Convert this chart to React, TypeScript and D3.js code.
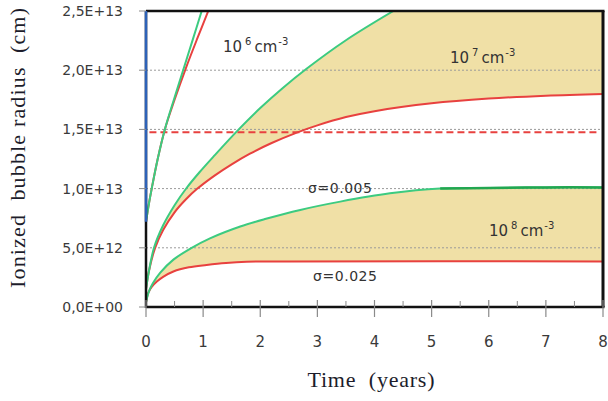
import React from "react";
import * as d3 from "d3";

// values in units of 1e12 cm, time in years
const xTicks = [0, 1, 2, 3, 4, 5, 6, 7, 8];
const xMinorTicks = [0.5, 1.5, 2.5, 3.5, 4.5, 5.5, 6.5, 7.5];
const yTicks = [0, 5, 10, 15, 20, 25];
const yTickLabels = ["0,0E+00", "5,0E+12", "1,0E+13", "1,5E+13", "2,0E+13", "2,5E+13"];
const gridValues = [5, 10, 15, 20];
const dashedLevel = 14.75;

const blue5: [number, number][] = [[0, 7.2], [0, 25]];
const green6: [number, number][] = [[0, 7.2], [0.05, 8.7], [0.1, 10.0], [0.2, 12.4], [0.33, 15.0], [0.5, 17.7], [0.65, 20.0], [0.82, 22.6], [0.975, 25]];
const red6: [number, number][] = [[0, 7.2], [0.05, 8.7], [0.1, 10.0], [0.2, 12.4], [0.33, 15.0], [0.5, 17.5], [0.7, 20.2], [0.9, 22.7], [1.09, 25]];
const green7: [number, number][] = [[0, 1.5], [0.05, 3.0], [0.14, 5.0], [0.3, 6.9], [0.5, 8.6], [0.71, 10.05], [0.94, 11.4], [1.2, 12.8], [1.59, 14.83], [2.0, 16.8], [2.4, 18.52], [2.81, 20.12], [3.5, 22.53], [4.33, 25]];
const red7: [number, number][] = [[0, 1.5], [0.05, 3.0], [0.16, 5.0], [0.3, 6.5], [0.5, 8.0], [0.7, 9.1], [0.9, 10.0], [1.2, 11.1], [1.5, 12.05], [1.82, 12.95], [2.2, 13.85], [2.64, 14.73], [3, 15.34], [3.5, 16.04], [4, 16.54], [5, 17.2], [6, 17.6], [7, 17.85], [8, 18.0]];
const green8: [number, number][] = [[0, 0.4], [0.05, 1.3], [0.12, 2.0], [0.25, 2.9], [0.48, 4.0], [0.8, 5.0], [1.12, 5.8], [1.65, 6.8], [2.1, 7.45], [2.7, 8.2], [3.4, 8.9], [4.27, 9.6], [5.15, 10.0], [6, 10.05], [7, 10.1], [8, 10.1]];
const green8Plateau: [number, number][] = [[5.15, 10.0], [6, 10.05], [7, 10.1], [8, 10.1]];
const red8: [number, number][] = [[0, 0.4], [0.04, 1.2], [0.1, 1.7], [0.19, 2.15], [0.3, 2.55], [0.48, 3.0], [0.75, 3.35], [1.06, 3.55], [1.4, 3.72], [1.76, 3.82], [2.5, 3.85], [8, 3.85]];

const W = 608, H = 401;
const X0 = 146, X1 = 603, Y0 = 307, Y1 = 11;
const GREEN = "#3ccb80";
const DARKGREEN = "#22a650";
const RED = "#e8413f";
const BLUE = "#2d62b8";
const FILL = "#f0e0a6";

export default function App() {
  const x = d3.scaleLinear().domain([0, 8]).range([X0, X1]);
  const y = d3.scaleLinear().domain([0, 25]).range([Y0, Y1]);
  const line = d3
    .line<[number, number]>()
    .x((d) => x(d[0]))
    .y((d) => y(d[1]))
    .curve(d3.curveCatmullRom.alpha(0.5));
  const straight = d3.line<[number, number]>().x((d) => x(d[0])).y((d) => y(d[1]));

  const band = (up: [number, number][], lo: [number, number][]) => {
    const upPath = line(up) as string;
    const lastUp = up[up.length - 1];
    const lastLo = lo[lo.length - 1];
    let corner = "";
    if (lastUp[0] < 8) corner = `L${x(8)},${y(lastUp[1])}`;
    const loRev = (line([...lo].reverse()) as string).replace(/^M/, "L");
    return `${upPath}${corner}L${x(lastLo[0])},${y(lastLo[1])}${loRev}Z`;
  };

  const labelFont = "'DejaVu Sans', Verdana, sans-serif";
  const serif = "'Liberation Serif', 'Times New Roman', serif";

  const sup = (n: string, xx: number, yy: number) => (
    <text x={xx} y={yy} fontFamily={labelFont} fontSize={15} fill="#333">
      10<tspan dy={-7} fontSize={10} dx={3}>{n}</tspan>
      <tspan dy={7} fontSize={15} dx={3}>cm</tspan>
      <tspan dy={-7} fontSize={10} dx={1}>-3</tspan>
    </text>
  );

  return (
    <svg width={W} height={H} style={{ position: "absolute", left: 0, top: 0, background: "#fff" }}>
      <defs>
        <clipPath id="plot">
          <rect x={X0} y={Y1} width={X1 - X0} height={Y0 - Y1} />
        </clipPath>
      </defs>
      <g clipPath="url(#plot)">
        <path d={band(green7, red7)} fill={FILL} />
        <path d={band(green8, red8)} fill={FILL} />
        {gridValues.map((v) => (
          <line key={v} x1={X0} x2={X1} y1={y(v)} y2={y(v)} stroke="#9a9a9a" strokeWidth={1} strokeDasharray="2,2" />
        ))}
        <line x1={x(0.06)} x2={x(7.93)} y1={y(dashedLevel)} y2={y(dashedLevel)} stroke={RED} strokeWidth={2} strokeDasharray="7,4" />
        <path d={line(red6) as string} fill="none" stroke={RED} strokeWidth={2} />
        <path d={line(green6) as string} fill="none" stroke={GREEN} strokeWidth={2} />
        <path d={line(red7) as string} fill="none" stroke={RED} strokeWidth={2} />
        <path d={line(green7) as string} fill="none" stroke={GREEN} strokeWidth={2} />
        <path d={line(red8) as string} fill="none" stroke={RED} strokeWidth={2} />
        <path d={line(green8) as string} fill="none" stroke={GREEN} strokeWidth={2} />
        <path d={line(green8Plateau) as string} fill="none" stroke={DARKGREEN} strokeWidth={2.5} />
      </g>
      {/* frame */}
      <line x1={X0} x2={X1 + 1.5} y1={Y1} y2={Y1} stroke="#111" strokeWidth={2.5} />
      <line x1={X1} x2={X1} y1={Y1} y2={Y0} stroke="#111" strokeWidth={3} />
      <line x1={X0} x2={X1 + 1.5} y1={Y0} y2={Y0} stroke="#111" strokeWidth={2.5} />
      <line x1={X0} x2={X0} y1={Y1} y2={Y0 + 1} stroke="#111" strokeWidth={2.5} />
      <path d={straight(blue5) as string} stroke={BLUE} strokeWidth={2.5} fill="none" />
      {/* y ticks */}
      {yTicks.map((v, i) => (
        <g key={v}>
          <line x1={X0 - 7} x2={X0} y1={y(v)} y2={y(v)} stroke="#8a8a8a" strokeWidth={1} />
          <text x={123} y={y(v)} dy="0.36em" textAnchor="end" fontFamily={labelFont} fontSize={14} fill="#3a3a3a">
            {yTickLabels[i]}
          </text>
        </g>
      ))}
      {/* x ticks */}
      {xTicks.map((t) => (
        <g key={t}>
          <line x1={x(t)} x2={x(t)} y1={Y0 - 7} y2={Y0 + 10} stroke="#8a8a8a" strokeWidth={1.2} />
          <text x={x(t)} y={347} textAnchor="middle" fontFamily={labelFont} fontSize={15} fill="#3a3a3a">
            {t}
          </text>
        </g>
      ))}
      {xMinorTicks.map((t) => (
        <line key={t} x1={x(t)} x2={x(t)} y1={Y0 - 6} y2={Y0} stroke="#8a8a8a" strokeWidth={1} />
      ))}
      {/* annotations */}
      {sup("6", 223, 52)}
      {sup("7", 450, 63)}
      {sup("8", 489, 236)}
      <text x={308} y={193} fontFamily={labelFont} fontSize={14} fill="#333" textLength={64}>
        σ=0.005
      </text>
      <text x={313} y={281} fontFamily={labelFont} fontSize={14} fill="#333" textLength={64}>
        σ=0.025
      </text>
      {/* axis titles */}
      <text
        x={371}
        y={387}
        textAnchor="middle"
        fontFamily={serif}
        fontSize={22}
        fill="#1d1d2b"
        textLength={127}
        lengthAdjust="spacing"
        style={{ whiteSpace: "pre" }}
      >
        {"Time  (years)"}
      </text>
      <text
        transform={`translate(25,148) rotate(-90)`}
        textAnchor="middle"
        fontFamily={serif}
        fontSize={22}
        fill="#1d1d2b"
        textLength={280}
        lengthAdjust="spacing"
        style={{ whiteSpace: "pre" }}
      >
        {"Ionized  bubble radius  (cm)"}
      </text>
    </svg>
  );
}
